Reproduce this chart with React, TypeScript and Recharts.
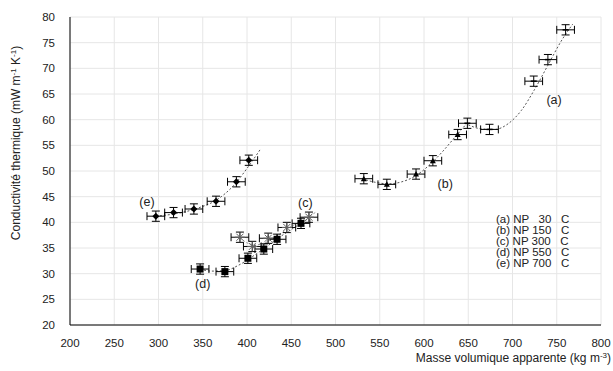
import React from 'react';
import {
  ComposedChart,
  Scatter,
  Line,
  XAxis,
  YAxis,
  CartesianGrid,
  ErrorBar,
} from 'recharts';

const FONT = '"Liberation Sans", Arial, sans-serif';

// density (kg m-3) vs thermal conductivity (mW m-1 K-1)
const serieA = [
  { x: 649, y: 59.3 },
  { x: 674, y: 58.1 },
  { x: 724, y: 67.5 },
  { x: 740, y: 71.7 },
  { x: 760, y: 77.5 },
];
const serieB = [
  { x: 532, y: 48.5 },
  { x: 558, y: 47.4 },
  { x: 591, y: 49.4 },
  { x: 610, y: 52.0 },
  { x: 638, y: 57.1 },
];
const serieC = [
  { x: 392, y: 37.1 },
  { x: 406, y: 35.3 },
  { x: 424, y: 36.9 },
  { x: 445, y: 39.0 },
  { x: 470, y: 41.0 },
];
const serieD = [
  { x: 347, y: 30.9 },
  { x: 375, y: 30.4 },
  { x: 401, y: 33.0 },
  { x: 419, y: 34.8 },
  { x: 434, y: 36.7 },
  { x: 461, y: 39.8 },
];
const serieE = [
  { x: 297, y: 41.2 },
  { x: 317, y: 41.9 },
  { x: 340, y: 42.6 },
  { x: 365, y: 44.1 },
  { x: 388, y: 47.9 },
  { x: 402, y: 52.1 },
];

// uncertainty on each point
const errX = 10;
const errY = 1;

// dotted trend curves
const trendA = [
  { x: 650, y: 59.0 },
  { x: 665, y: 58.2 },
  { x: 680, y: 58.1 },
  { x: 695, y: 59.2 },
  { x: 710, y: 61.8 },
  { x: 725, y: 65.9 },
  { x: 740, y: 70.6 },
  { x: 755, y: 75.3 },
  { x: 768, y: 78.6 },
];
const trendB = [
  { x: 530, y: 48.5 },
  { x: 545, y: 47.8 },
  { x: 560, y: 47.5 },
  { x: 575, y: 47.9 },
  { x: 590, y: 49.0 },
  { x: 605, y: 51.0 },
  { x: 620, y: 53.6 },
  { x: 635, y: 56.6 },
  { x: 650, y: 59.6 },
];
const trendC = [
  { x: 392, y: 37.0 },
  { x: 400, y: 36.0 },
  { x: 410, y: 35.6 },
  { x: 420, y: 36.0 },
  { x: 435, y: 37.5 },
  { x: 450, y: 39.2 },
  { x: 465, y: 40.6 },
  { x: 478, y: 42.0 },
];
const trendD = [
  { x: 347, y: 30.9 },
  { x: 360, y: 30.5 },
  { x: 375, y: 30.6 },
  { x: 390, y: 31.6 },
  { x: 405, y: 33.2 },
  { x: 420, y: 35.0 },
  { x: 435, y: 36.9 },
  { x: 450, y: 38.6 },
  { x: 468, y: 40.6 },
];
const trendE = [
  { x: 297, y: 41.2 },
  { x: 320, y: 41.7 },
  { x: 345, y: 42.8 },
  { x: 365, y: 44.3 },
  { x: 385, y: 47.2 },
  { x: 400, y: 50.5 },
  { x: 415, y: 54.2 },
];

const curveLabels = [
  { x: 747, y: 63.8, text: '(a)' },
  { x: 624, y: 47.4, text: '(b)' },
  { x: 466, y: 43.8, text: '(c)' },
  { x: 350, y: 28.0, text: '(d)' },
  { x: 287, y: 43.9, text: '(e)' },
];

const legendLines = [
  '(a) NP   30   C',
  '(b) NP 150   C',
  '(c) NP 300   C',
  '(d) NP 550   C',
  '(e) NP 700   C',
];

const xTicks = [200, 250, 300, 350, 400, 450, 500, 550, 600, 650, 700, 750, 800];
const yTicks = [20, 25, 30, 35, 40, 45, 50, 55, 60, 65, 70, 75, 80];

const withErr = (arr) => arr.map((p) => ({ ...p, ex: errX, ey: errY }));

const Dash = ({ cx, cy }) => (
  <line x1={cx - 3} x2={cx + 3} y1={cy} y2={cy} stroke="#000" strokeWidth={1.5} />
);
const Triangle = ({ cx, cy }) => (
  <polygon points={`${cx},${cy - 3} ${cx + 3},${cy + 2.5} ${cx - 3},${cy + 2.5}`} fill="#000" />
);
const Star = ({ cx, cy }) => (
  <g stroke="#666" strokeWidth={1}>
    <line x1={cx - 5} x2={cx + 5} y1={cy} y2={cy} />
    <line x1={cx} x2={cx} y1={cy - 5} y2={cy + 5} />
    <line x1={cx - 3.5} x2={cx + 3.5} y1={cy - 3.5} y2={cy + 3.5} />
    <line x1={cx - 3.5} x2={cx + 3.5} y1={cy + 3.5} y2={cy - 3.5} />
  </g>
);
const Square = ({ cx, cy }) => <rect x={cx - 3.5} y={cy - 3.5} width={7} height={7} fill="#000" />;
const Diamond = ({ cx, cy }) => (
  <polygon points={`${cx},${cy - 3.5} ${cx + 3.5},${cy} ${cx},${cy + 3.5} ${cx - 3.5},${cy}`} fill="#000" />
);
const TextMark = ({ cx, cy, payload }) => (
  <text x={cx} y={cy} textAnchor="middle" dominantBaseline="central" fontSize={12.5} fontFamily={FONT} fill="#222">
    {payload.text}
  </text>
);

const series = [
  { name: 'a', data: serieA, shape: Dash },
  { name: 'b', data: serieB, shape: Triangle },
  { name: 'c', data: serieC, shape: Star },
  { name: 'd', data: serieD, shape: Square },
  { name: 'e', data: serieE, shape: Diamond },
];
const trends = [
  { name: 'tA', data: trendA, color: '#555' },
  { name: 'tB', data: trendB, color: '#555' },
  { name: 'tC', data: trendC, color: '#999' },
  { name: 'tD', data: trendD, color: '#555' },
  { name: 'tE', data: trendE, color: '#555' },
];

export default function App() {
  const tickStyle = { fontSize: 11.5, fontFamily: FONT, fill: '#222' };
  return (
    <div style={{ position: 'absolute', left: 0, top: 0, width: 613, height: 371, background: '#fff' }}>
      <ComposedChart width={613} height={371} margin={{ top: 17, right: 12, bottom: 16, left: 0 }}>
        <CartesianGrid stroke="#e6e6e6" />
        <XAxis
          dataKey="x"
          type="number"
          domain={[200, 800]}
          ticks={xTicks}
          tick={tickStyle}
          tickLine={false}
          tickMargin={8}
          height={30}
          stroke="#000"
          allowDuplicatedCategory={false}
          label={{
            content: () => (
              <text x={611} y={362} textAnchor="end" fontSize={12} fontFamily={FONT} fill="#222">
                Masse volumique apparente (kg m
                <tspan dy={-4} fontSize={8}>-3</tspan>
                <tspan dy={4}>)</tspan>
              </text>
            ),
          }}
        />
        <YAxis
          dataKey="y"
          type="number"
          domain={[20, 80]}
          ticks={yTicks}
          width={70}
          tick={tickStyle}
          tickLine={false}
          tickMargin={9}
          stroke="#000"
          label={{
            content: () => (
              <text
                x={0}
                y={0}
                transform="translate(20,143) rotate(-90)"
                textAnchor="middle"
                fontSize={12}
                fontFamily={FONT}
                fill="#222"
              >
                Conductivité thermique (mW m
                <tspan dy={-4} fontSize={8}>-1</tspan>
                <tspan dy={4}> K</tspan>
                <tspan dy={-4} fontSize={8}>-1</tspan>
                <tspan dy={4}>)</tspan>
              </text>
            ),
          }}
        />
        {trends.map((t) => (
          <Line
            key={t.name}
            data={t.data}
            dataKey="y"
            type="monotone"
            stroke={t.color}
            strokeWidth={1}
            strokeDasharray="2 2"
            dot={false}
            activeDot={false}
            isAnimationActive={false}
          />
        ))}
        {series.map((s) => (
          <Scatter key={s.name} data={withErr(s.data)} dataKey="y" shape={s.shape} isAnimationActive={false}>
            <ErrorBar dataKey="ex" direction="x" width={4} stroke="#000" strokeWidth={1} />
            <ErrorBar dataKey="ey" direction="y" width={4} stroke="#000" strokeWidth={1} />
          </Scatter>
        ))}
        <Scatter data={curveLabels} dataKey="y" shape={TextMark} isAnimationActive={false} />
      </ComposedChart>
      <div
        style={{
          position: 'absolute',
          left: 496,
          top: 214,
          fontFamily: FONT,
          fontSize: 11.5,
          lineHeight: '11px',
          color: '#222',
          whiteSpace: 'pre',
        }}
      >
        {legendLines.map((l) => (
          <div key={l}>{l}</div>
        ))}
      </div>
    </div>
  );
}
